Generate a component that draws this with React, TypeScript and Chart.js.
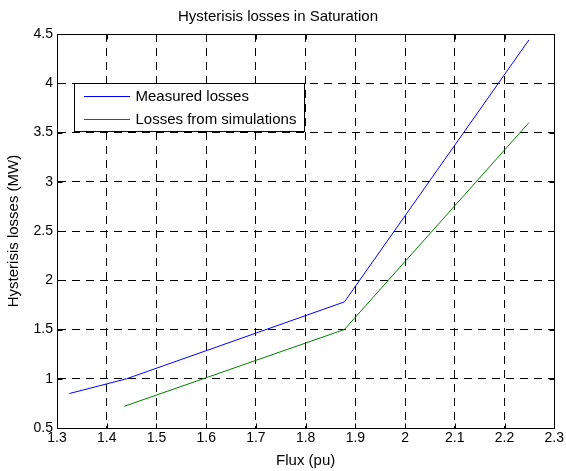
import React, { useEffect, useRef } from 'react';
import { Chart, registerables } from 'chart.js';

Chart.register(...registerables);

// ---- data ----
const measuredFlux = [1.325, 1.44, 1.878, 2.249];
const measuredLoss = [0.85, 1.0, 1.78, 4.44];
const simFlux = [1.435, 1.878, 2.249];
const simLoss = [0.72, 1.5, 3.6];

const seriesLabels = ['Measured losses', 'Losses from simulations'];
const chartTitle = 'Hysterisis losses in Saturation';
const xAxisTitle = 'Flux (pu)';
const yAxisTitle = 'Hysterisis losses (MW)';

const xTickValues = [1.3, 1.4, 1.5, 1.6, 1.7, 1.8, 1.9, 2.0, 2.1, 2.2, 2.3];
const xTickLabels = ['1.3', '1.4', '1.5', '1.6', '1.7', '1.8', '1.9', '2', '2.1', '2.2', '2.3'];
const yTickValues = [0.5, 1, 1.5, 2, 2.5, 3, 3.5, 4, 4.5];
const yTickLabels = ['0.5', '1', '1.5', '2', '2.5', '3', '3.5', '4', '4.5'];

const FONT = '"Liberation Sans", Arial, Helvetica, sans-serif';

const boxAndTicks = {
  id: 'boxAndTicks',
  afterDraw(chart: any) {
    const { ctx, chartArea } = chart;
    const l = Math.round(chartArea.left) + 0.5;
    const r = Math.round(chartArea.right) + 0.5;
    const t = Math.round(chartArea.top) + 0.5;
    const b = Math.round(chartArea.bottom) + 0.5;
    ctx.save();
    ctx.strokeStyle = '#000';
    ctx.lineWidth = 1;
    ctx.setLineDash([]);
    ctx.strokeRect(l, t, r - l, b - t);
    const tl = 5;
    const xs = chart.scales.x;
    const ys = chart.scales.y;
    ctx.beginPath();
    xTickValues.forEach((v) => {
      const px = Math.round(xs.getPixelForValue(v)) + 0.5;
      ctx.moveTo(px, b);
      ctx.lineTo(px, b - tl);
      ctx.moveTo(px, t);
      ctx.lineTo(px, t + tl);
    });
    yTickValues.forEach((v) => {
      const py = Math.round(ys.getPixelForValue(v)) + 0.5;
      ctx.moveTo(l, py);
      ctx.lineTo(l + tl, py);
      ctx.moveTo(r, py);
      ctx.lineTo(r - tl, py);
    });
    ctx.stroke();
    ctx.restore();
  },
};

const insideLegend = {
  id: 'insideLegend',
  afterDatasetsDraw(chart: any) {
    const { ctx } = chart;
    const x0 = 74.5;
    const y0 = 83.5;
    const w = 230;
    const h = 48;
    ctx.save();
    ctx.setLineDash([]);
    ctx.fillStyle = '#fff';
    ctx.fillRect(x0, y0, w, h);
    ctx.strokeStyle = '#000';
    ctx.lineWidth = 1;
    ctx.strokeRect(x0, y0, w, h);
    ctx.font = `15px ${FONT}`;
    ctx.textBaseline = 'middle';
    ctx.textAlign = 'left';
    chart.data.datasets.forEach((ds: any, i: number) => {
      const cy = Math.round(y0 + 12 + i * 23) + 0.5;
      ctx.strokeStyle = ds.borderColor;
      ctx.beginPath();
      ctx.moveTo(x0 + 9.5, cy);
      ctx.lineTo(x0 + 55.5, cy);
      ctx.stroke();
      ctx.fillStyle = '#000';
      ctx.fillText(ds.label, x0 + 61, cy);
    });
    ctx.restore();
  },
};

export default function App() {
  const ref = useRef<HTMLCanvasElement | null>(null);

  useEffect(() => {
    if (!ref.current) return;
    const chart = new Chart(ref.current, {
      type: 'line',
      data: {
        datasets: [
          {
            label: seriesLabels[0],
            data: measuredFlux.map((x, i) => ({ x, y: measuredLoss[i] })),
            borderColor: '#0000ff',
            borderWidth: 1,
            pointRadius: 0,
            tension: 0,
            fill: false,
          },
          {
            label: seriesLabels[1],
            data: simFlux.map((x, i) => ({ x, y: simLoss[i] })),
            borderColor: '#008000',
            borderWidth: 1,
            pointRadius: 0,
            tension: 0,
            fill: false,
          },
        ],
      },
      options: {
        animation: false,
        responsive: false,
        maintainAspectRatio: false,
        layout: { padding: { left: 0, right: 10, top: 0, bottom: 0 } },
        plugins: {
          legend: { display: false },
          tooltip: { enabled: false },
          title: {
            display: true,
            text: chartTitle,
            color: '#000',
            font: { family: FONT, size: 15, weight: 'normal' },
            padding: { top: 8, bottom: 8 },
          },
        },
        scales: {
          x: {
            type: 'linear',
            min: 1.3,
            max: 2.3,
            afterBuildTicks: (scale: any) => {
              scale.ticks = xTickValues.map((v) => ({ value: v }));
            },
            afterFit: (scale: any) => {
              scale.height = 43;
            },
            ticks: {
              color: '#000',
              font: { family: FONT, size: 14 },
              padding: 2,
              maxRotation: 0,
              autoSkip: false,
              callback: (_v: any, i: number) => xTickLabels[i],
            },
            grid: { color: '#000', lineWidth: 1, drawTicks: false },
            border: { display: true, color: '#000', dash: [8, 6] },
            title: {
              display: true,
              text: xAxisTitle,
              color: '#000',
              font: { family: FONT, size: 15 },
              padding: { top: 0, bottom: 1 },
            },
          },
          y: {
            type: 'linear',
            min: 0.5,
            max: 4.5,
            afterBuildTicks: (scale: any) => {
              scale.ticks = yTickValues.map((v) => ({ value: v }));
            },
            afterFit: (scale: any) => {
              scale.width = 57;
            },
            ticks: {
              color: '#000',
              font: { family: FONT, size: 14 },
              padding: 4,
              autoSkip: false,
              callback: (_v: any, i: number) => yTickLabels[i],
            },
            grid: { color: '#000', lineWidth: 1, drawTicks: false },
            border: { display: true, color: '#000', dash: [8, 6] },
            title: {
              display: true,
              text: yAxisTitle,
              color: '#000',
              font: { family: FONT, size: 15 },
              padding: { top: 5, bottom: 0 },
            },
          },
        },
      },
      plugins: [insideLegend, boxAndTicks],
    } as any);
    return () => chart.destroy();
  }, []);

  return (
    <div style={{ position: 'fixed', left: 0, top: 0, width: 566, height: 471, background: '#fff' }}>
      <canvas ref={ref} width={566} height={471} />
    </div>
  );
}
